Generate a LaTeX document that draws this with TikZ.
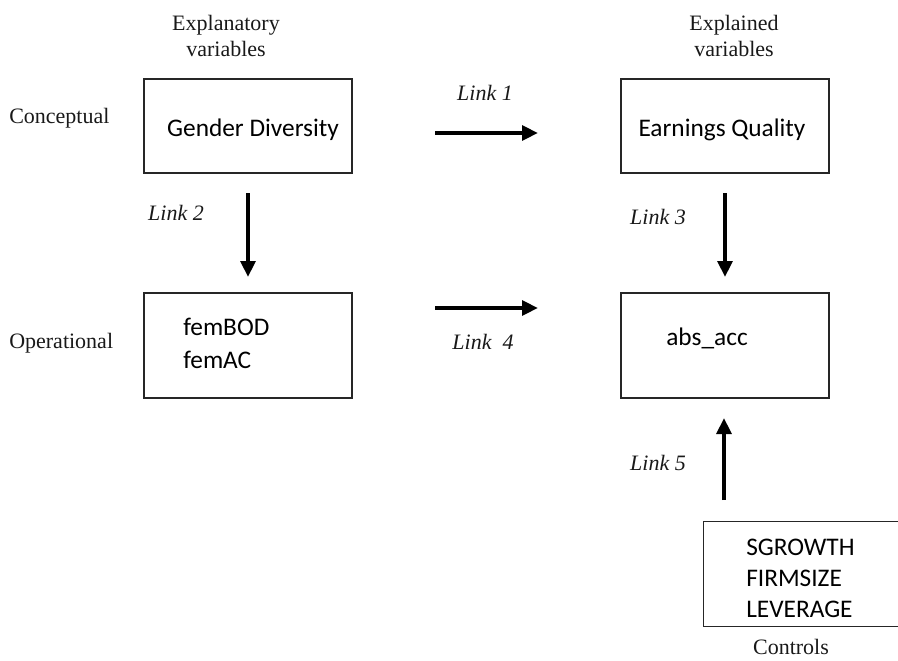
\documentclass[tikz,border=0pt]{standalone}
\usepackage{fontspec}
\setmainfont{Liberation Serif}
\newfontfamily\boxfont{Carlito}
\usetikzlibrary{arrows.meta}
\begin{document}
\begin{tikzpicture}[x=0.75pt,y=-0.75pt,
  frame/.style={draw=black!85, line width=0.8pt, inner sep=0pt, rectangle},
  boxtext/.style={font=\boxfont\fontsize{19}{24.5}\selectfont, text=black, inner sep=0pt, align=left},
  lbl/.style={font=\fontsize{16.5}{19.5}\selectfont, text=black!90, inner sep=0pt, align=center},
  linklbl/.style={font=\itshape\fontsize{16.5}{19.5}\selectfont, text=black!90, inner sep=0pt},
  bigarrow/.style={line width=3.2pt, -{Triangle[length=12pt,width=11pt]}}]
\useasboundingbox (0,0) rectangle (898,660);
\clip (0,0) rectangle (898,660);
% boxes
\node[frame, minimum width=156pt, minimum height=70.5pt] (gd) at (248,126) {};
\node[frame, minimum width=156pt, minimum height=70.5pt] (eq) at (725,126) {};
\node[frame, minimum width=156pt, minimum height=78.75pt] (op) at (248,345.5) {};
\node[frame, minimum width=156pt, minimum height=78.75pt] (ab) at (725,345.5) {};
\node[inner sep=0pt, minimum width=180pt, minimum height=78pt] (ct) at (824,574) {};
\draw[draw=black!85, line width=0.8pt] (ct.north east) -- (ct.north west) -- (ct.south west) -- (ct.south east);
% box texts
\node[boxtext] (gdt) at (253,130) {Gender Diversity};
\node[boxtext] (eqt) at (722,130) {Earnings Quality};
\node[boxtext, anchor=west] (opt) at (183,343.5) {femBOD\\femAC};
\node[boxtext] (abt) at (707,338) {abs\_acc};
\node[boxtext, anchor=west, font=\boxfont\fontsize{19}{23.2}\selectfont] (ctt) at (746,578) {SGROWTH\\FIRMSIZE\\LEVERAGE};
% labels
\node[lbl] (expl) at (226,36) {Explanatory\\variables};
\node[lbl] (expd) at (734,36) {Explained\\variables};
\node[lbl, anchor=west] (conc) at (9,118) {Conceptual};
\node[lbl, anchor=west] (oper) at (9,343) {Operational};
\node[lbl] (ctrl) at (791,647) {Controls};
\node[linklbl] (l1) at (485,93) {Link 1};
\node[linklbl] (l2) at (176,213) {Link 2};
\node[linklbl] (l3) at (658,217) {Link 3};
\node[linklbl] (l4) at (483,342) {Link\ \ 4};
\node[linklbl] (l5) at (658,463) {Link 5};
% arrow ends
\coordinate (a1s) at (435,133); \coordinate (a1e) at (538,133);
\coordinate (a2s) at (248,193); \coordinate (a2e) at (248,277);
\coordinate (a3s) at (725,193); \coordinate (a3e) at (725,277);
\coordinate (a4s) at (435,308); \coordinate (a4e) at (538,308);
\coordinate (a5s) at (724,500); \coordinate (a5e) at (724,418);
\draw[bigarrow] (a1s) -- (a1e);
\draw[bigarrow] (a2s) -- (a2e);
\draw[bigarrow] (a3s) -- (a3e);
\draw[bigarrow] (a4s) -- (a4e);
\draw[bigarrow] (a5s) -- (a5e);
\end{tikzpicture}
\end{document}
